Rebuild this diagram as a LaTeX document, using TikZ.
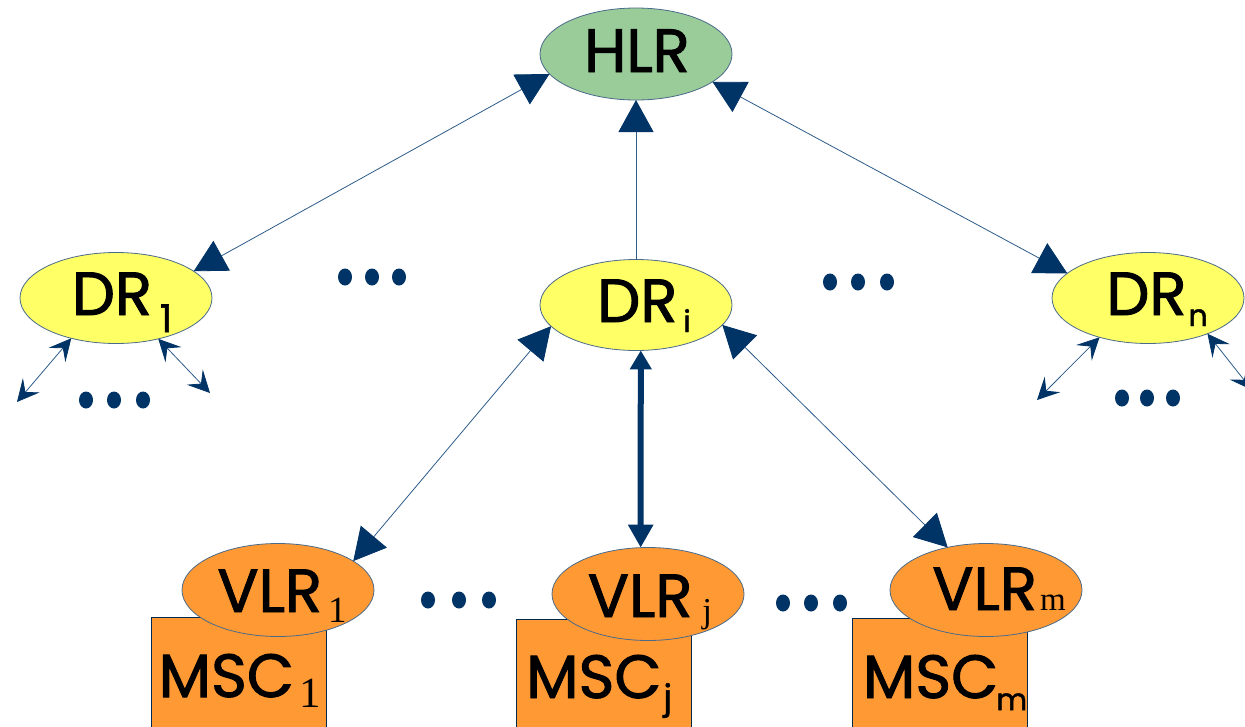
\documentclass[tikz,border=0pt]{standalone}
\usepackage{fontspec}
\setmainfont{Poppins}
\newfontfamily\thickpop[FakeBold=1.6]{Poppins}
\newfontfamily\subserif{Liberation Serif}
\usetikzlibrary{arrows.meta,shapes.geometric}
\definecolor{navy}{HTML}{003366}
\definecolor{linecol}{HTML}{2E5C8A}
\definecolor{bordercol}{HTML}{4A6A8A}
\definecolor{hlrgreen}{HTML}{99CC99}
\definecolor{dryellow}{HTML}{FFFF66}
\definecolor{vlrorange}{HTML}{FF9933}
\newcommand\lblfont{\thickpop\fontsize{61}{61}\selectfont}
\newcommand\subs[3]{\raisebox{-#2pt}{\fontsize{#1}{#1}\selectfont #3}}
\begin{document}
\begin{tikzpicture}[x=1pt,y=-1pt,
  ell/.style={ellipse,draw=bordercol,line width=0.8pt,inner sep=0pt,outer sep=0pt,
    minimum width=192pt,minimum height=92pt},
  hlr/.style={ell,fill=hlrgreen},
  dr/.style={ell,fill=dryellow,minimum height=91pt},
  vlr/.style={ell,fill=vlrorange,minimum height=93pt},
  mscbox/.style={rectangle,draw=navy!80!black,line width=1pt,fill=vlrorange,inner sep=0pt,
    outer sep=0pt,minimum width=175pt,minimum height=124pt},
  lbl/.style={anchor=base,inner sep=0pt,font=\lblfont},
  conn/.style={draw=linecol,line width=0.8pt},
  dot/.style={fill=navy}
]
\useasboundingbox (0,0) rectangle (1245,726);
\fill[white] (0,0) rectangle (1245,726);

% MSC boxes (behind VLR ellipses)
\node[mscbox] (MSC1) at (238.5,679) {};
\node[mscbox] (MSCj) at (603.5,681) {};
\node[mscbox] (MSCm) at (939.5,680) {};

% ellipses
\node[hlr] (HLR) at (636,54) {};
\node[dr] (DR1) at (116,298) {};
\node[dr] (DRi) at (636,305) {};
\node[dr] (DRn) at (1148,298) {};
\node[vlr] (VLR1) at (278,590) {};
\node[vlr] (VLRj) at (648,594) {};
\node[vlr] (VLRm) at (986,590) {};

% labels
\node[lbl] (tHLR) at (637,72) {HLR};
\node[lbl] (tDR1) at (122,315) {DR\hspace{8pt}\subs{38}{17}{1}};
\node[lbl] (tDRi) at (644,322) {DR\hspace{6pt}\subs{30}{10}{i}};
\node[lbl] (tDRn) at (1157,315) {DR\hspace{2pt}\subs{30}{11}{n}};
\node[lbl] (tVLR1) at (282,612) {VLR\hspace{6pt}\subs{37}{10}{\subserif 1}};
\node[lbl] (tVLRj) at (650,617) {VLR\hspace{10pt}\subs{35}{5}{\subserif j}};
\node[lbl] (tVLRm) at (999,610) {VLR\hspace{3pt}\subs{33}{0}{\subserif m}};
\node[lbl] (tMSC1) at (240,697) {MSC\hspace{6pt}\subs{43}{10}{\subserif 1}};
\node[lbl] (tMSCj) at (599,698) {MSC\hspace{2pt}\subs{34}{11}{j}};
\node[lbl] (tMSCm) at (945,698) {MSC\hspace{-2pt}\subs{30}{12}{m}};

% connectors
\draw[conn,{Triangle[length=32pt,width=34pt,color=navy]}-{Triangle[length=32pt,width=34pt,color=navy]}]
  (DR1.19.5) -- (HLR.193);
\draw[conn,-{Triangle[length=32pt,width=35pt,color=navy]}] (DRi.north) -- (HLR.south);
\draw[conn,{Triangle[length=32pt,width=34pt,color=navy]}-{Triangle[length=32pt,width=34pt,color=navy]}]
  (HLR.-20) -- (DRn.163);
\draw[conn,{Triangle[length=32pt,width=34pt,color=navy]}-{Triangle[length=32pt,width=34pt,color=navy]}]
  (DRi.194.8) -- (VLR1.21);
\draw[conn,{Triangle[length=32pt,width=34pt,color=navy]}-{Triangle[length=32pt,width=34pt,color=navy]}]
  (DRi.-13) -- (VLRm.132);
\draw[draw=navy,line width=6pt,{Triangle[length=19pt,width=21pt,color=navy]}-{Triangle[length=23pt,width=24pt,color=navy]}]
  (DRi.-84) -- (VLRj.99);

% small free-ended arrows
\coordinate (e1) at (17,402);
\coordinate (e2) at (210,393);
\coordinate (e3) at (1037,400);
\coordinate (e4) at (1252,390);
\draw[conn,{Stealth[length=22pt,width=22pt,inset=9pt,color=navy]}-{Stealth[length=22pt,width=22pt,inset=9pt,color=navy]}] (DR1.222.5) -- (e1);
\draw[conn,{Stealth[length=22pt,width=22pt,inset=9pt,color=navy]}-{Stealth[length=22pt,width=22pt,inset=9pt,color=navy]}] (DR1.-44.3) -- (e2);
\draw[conn,{Stealth[length=22pt,width=22pt,inset=9pt,color=navy]}-{Stealth[length=22pt,width=22pt,inset=9pt,color=navy]}] (DRn.219.8) -- (e3);
\draw[conn,{Stealth[length=22pt,width=22pt,inset=9pt,color=navy]}-{Stealth[length=22pt,width=22pt,inset=9pt,color=navy]}] (DRn.-31.5) -- (e4);

% dots
\foreach \x in {345,372,399} \fill[dot] (\x,277) ellipse [x radius=7pt,y radius=8.5pt];
\foreach \x in {830,858,887} \fill[dot] (\x,282) ellipse [x radius=7pt,y radius=8.5pt];
\foreach \x in {86,114,143} \fill[dot] (\x,400) ellipse [x radius=7pt,y radius=8.5pt];
\foreach \x in {1122,1147,1173} \fill[dot] (\x,398) ellipse [x radius=7pt,y radius=8.5pt];
\foreach \x in {428,459,489} \fill[dot] (\x,600) ellipse [x radius=7pt,y radius=8.5pt];
\foreach \x in {783,811,840} \fill[dot] (\x,603) ellipse [x radius=7pt,y radius=8.5pt];
\end{tikzpicture}
\end{document}
